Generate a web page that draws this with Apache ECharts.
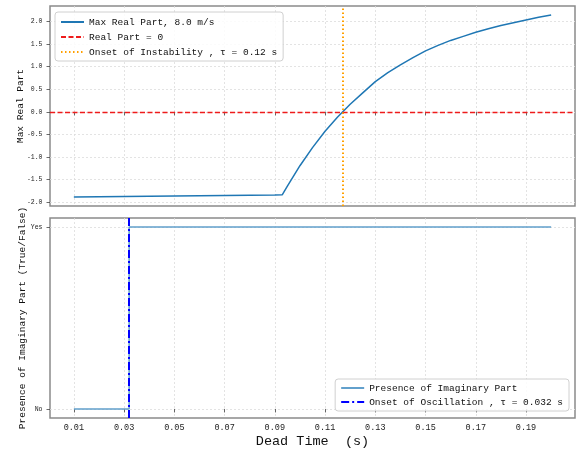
<!DOCTYPE html>
<html>
<head>
<meta charset="utf-8">
<script src="https://cdn.jsdelivr.net/npm/echarts@6/dist/echarts.min.js"></script>
<style>html,body{margin:0;padding:0;background:#fff;}#c{width:577px;height:456px;}</style>
</head>
<body>
<div id="c"></div>
<script>
// ---- data ----
const deadTime = [0.01, 0.03, 0.05, 0.07, 0.09, 0.093, 0.095, 0.1, 0.105, 0.11, 0.115, 0.12, 0.125, 0.13, 0.135, 0.14, 0.145, 0.15, 0.155, 0.16, 0.165, 0.17, 0.175, 0.18, 0.185, 0.19, 0.195, 0.2];
const maxRealPart = [-1.88, -1.87, -1.86, -1.85, -1.84, -1.83, -1.64, -1.19, -0.79, -0.43, -0.115, 0.17, 0.42, 0.67, 0.87, 1.04, 1.2, 1.35, 1.47, 1.58, 1.67, 1.76, 1.84, 1.91, 1.97, 2.03, 2.09, 2.14];
const imagTime = [0.01, 0.032, 0.2];
const imagPresent = [0, 1, 1];
const onsetInstability = 0.117;
const onsetOscillation = 0.032;
const xTicks = [0.01, 0.03, 0.05, 0.07, 0.09, 0.11, 0.13, 0.15, 0.17, 0.19];
const yTicksTop = [-2.0, -1.5, -1.0, -0.5, 0.0, 0.5, 1.0, 1.5, 2.0];
const yTicksBottom = [0, 1];
const yLabelsBottom = ['No', 'Yes'];
const names = {
  main: 'Max Real Part, 8.0 m/s',
  zero: 'Real Part = 0',
  inst: 'Onset of Instability , τ = 0.12 s',
  imag: 'Presence of Imaginary Part',
  osc: 'Onset of Oscillation , τ = 0.032 s'
};

const FONT = 'Liberation Mono';
const gridLine = { show: true, lineStyle: { color: '#dcdcdc', type: [2, 2], width: 0.8 } };
const tickStyle = { show: true, inside: false, length: 3.5, lineStyle: { color: '#444', width: 0.8 } };

function xAxis(gridIndex, showLabel) {
  return {
    type: 'value', gridIndex: gridIndex, min: 0.0005, max: 0.2095,
    axisLine: { show: false },
    axisTick: Object.assign({ customValues: xTicks }, tickStyle),
    axisLabel: { show: showLabel, customValues: xTicks, formatter: v => v.toFixed(2), fontFamily: FONT, fontSize: 8.5, color: '#222', margin: 5.5 },
    splitLine: gridLine,
    name: showLabel ? 'Dead Time  (s)' : '',
    nameLocation: 'middle', nameGap: 16, nameMoveOverlap: false,
    nameTextStyle: { fontFamily: FONT, fontSize: 13.5, color: '#111', verticalAlign: 'top' }
  };
}

const legendCommon = {
  orient: 'vertical', itemWidth: 23, itemHeight: 10,
  borderColor: '#d0d0d0', borderWidth: 1, borderRadius: 3, backgroundColor: 'rgba(255,255,255,0.85)',
  itemStyle: { opacity: 0, color: 'rgba(0,0,0,0)', borderWidth: 0 },
  textStyle: { fontFamily: FONT, fontSize: 9.5, color: '#111' }
};

const chart = echarts.init(document.getElementById('c'), null, { renderer: 'canvas' });
chart.setOption({
  animation: false,
  backgroundColor: '#fff',
  grid: [
    { left: 50, right: 2, top: 6, height: 200, show: true, borderColor: '#8a8a8a', borderWidth: 1.5, backgroundColor: 'transparent' },
    { left: 50, right: 2, top: 218, height: 200, show: true, borderColor: '#8a8a8a', borderWidth: 1.5, backgroundColor: 'transparent' }
  ],
  xAxis: [xAxis(0, false), xAxis(1, true)],
  yAxis: [
    {
      type: 'value', gridIndex: 0, min: -2.081, max: 2.341,
      axisLine: { show: false },
      axisTick: Object.assign({ customValues: yTicksTop }, tickStyle),
      axisLabel: { customValues: yTicksTop, formatter: v => v.toFixed(1), fontFamily: FONT, fontSize: 6.5, color: '#222', margin: 7.5 },
      splitLine: gridLine,
      name: 'Max Real Part', nameLocation: 'middle', nameGap: 25, nameMoveOverlap: false,
      nameTextStyle: { fontFamily: FONT, fontSize: 9.5, color: '#111' }
    },
    {
      type: 'value', gridIndex: 1, min: -0.05, max: 1.05,
      axisLine: { show: false },
      axisTick: Object.assign({ customValues: yTicksBottom }, tickStyle),
      axisLabel: { customValues: yTicksBottom, formatter: v => yLabelsBottom[Math.round(v)], fontFamily: FONT, fontSize: 6.5, color: '#222', margin: 7.5 },
      splitLine: gridLine,
      name: 'Presence of Imaginary Part (True/False)', nameLocation: 'middle', nameGap: 23, nameMoveOverlap: false,
      nameTextStyle: { fontFamily: FONT, fontSize: 9.5, color: '#111' }
    }
  ],
  legend: [
    Object.assign({}, legendCommon, {
      data: [names.main, names.zero, names.inst],
      left: 55, top: 12, itemGap: 5, padding: [5, 6, 4, 5]
    }),
    Object.assign({}, legendCommon, {
      data: [names.imag, names.osc],
      right: 8, top: 379, itemGap: 4, padding: [4, 6, 4, 5]
    })
  ],
  series: [
    {
      name: names.main, type: 'line', xAxisIndex: 0, yAxisIndex: 0, symbol: 'none', z: 3,
      data: deadTime.map((x, i) => [x, maxRealPart[i]]),
      lineStyle: { color: '#1f77b4', width: 1.5 }, itemStyle: { color: '#1f77b4' }
    },
    {
      name: names.zero, type: 'line', xAxisIndex: 0, yAxisIndex: 0, symbol: 'none', data: [], z: 4,
      lineStyle: { color: '#ee1c1c', width: 1.3, type: [5, 2.5] }, itemStyle: { color: '#ee1c1c' },
      markLine: { silent: true, symbol: 'none', precision: 5, label: { show: false }, animation: false,
        lineStyle: { color: '#ee1c1c', width: 1.3, type: [5, 2.5] }, data: [{ yAxis: 0 }] }
    },
    {
      name: names.inst, type: 'line', xAxisIndex: 0, yAxisIndex: 0, symbol: 'none', data: [], z: 4,
      lineStyle: { color: '#ffa000', width: 2, type: [1.5, 2.5] }, itemStyle: { color: '#ffa000' },
      markLine: { silent: true, symbol: 'none', precision: 5, label: { show: false }, animation: false,
        lineStyle: { color: '#ffa000', width: 2, type: [1.5, 2.5] }, data: [{ xAxis: onsetInstability }] }
    },
    {
      name: names.imag, type: 'line', xAxisIndex: 1, yAxisIndex: 1, symbol: 'none', step: 'end', z: 3,
      data: imagTime.map((x, i) => [x, imagPresent[i]]),
      lineStyle: { color: '#62a0cc', width: 1.5 }, itemStyle: { color: '#62a0cc' }
    },
    {
      name: names.osc, type: 'line', xAxisIndex: 1, yAxisIndex: 1, symbol: 'none', data: [], z: 4,
      lineStyle: { color: '#0000ff', width: 2, type: [8, 3, 2, 3] }, itemStyle: { color: '#0000ff' },
      markLine: { silent: true, symbol: 'none', precision: 5, label: { show: false }, animation: false,
        lineStyle: { color: '#0000ff', width: 2, type: [8, 3, 2, 3] }, data: [{ xAxis: onsetOscillation }] }
    }
  ]
});
</script>
</body>
</html>
